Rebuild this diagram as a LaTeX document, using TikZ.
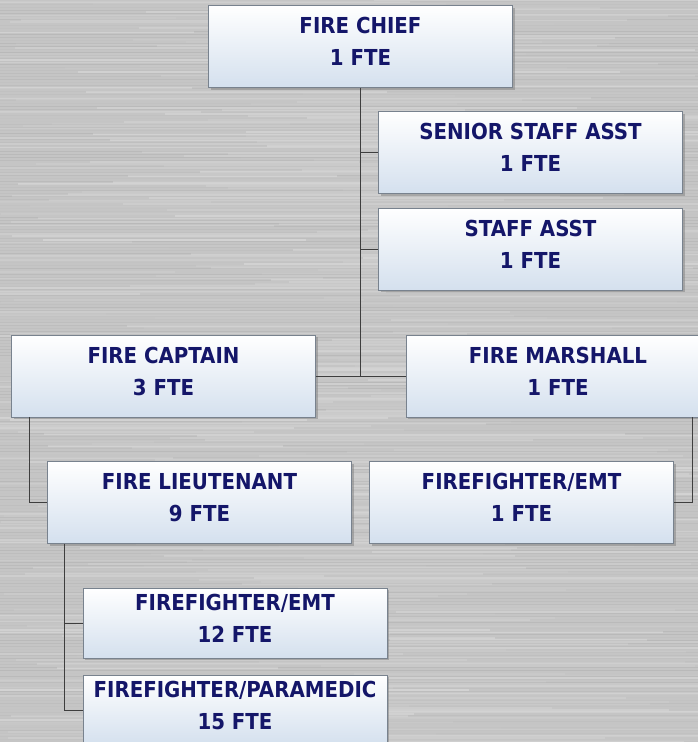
\documentclass[tikz,border=0pt]{standalone}
\usepackage{fontspec}
\newfontfamily\boxfont{DejaVu Sans Condensed}
\usetikzlibrary{shadows}
\definecolor{navytext}{RGB}{20,22,105}
\definecolor{boxblue}{RGB}{212,224,238}
\definecolor{boxedge}{RGB}{120,130,142}
\definecolor{steel}{RGB}{197,197,197}
\definecolor{linkgray}{RGB}{62,62,62}
\tikzset{
  post/.style={rectangle, draw=boxedge, line width=0.8pt, top color=white, bottom color=boxblue,
    minimum width=304pt, minimum height=82pt, inner sep=0pt, align=center, text=navytext,
    font=\boxfont\bfseries\fontsize{22}{32}\selectfont, text depth=10pt,
    drop shadow={shadow xshift=2pt, shadow yshift=-2pt, opacity=0.5}},
  link/.style={draw=linkgray, line width=1pt}
}

\begin{document}
\begin{tikzpicture}[x=1pt, y=-1pt]
    \useasboundingbox (0,0) rectangle (698,742);
    \clip (0,0) rectangle (698,742);
    % brushed steel backdrop
    \fill[steel] (0,0) rectangle (698,742);
    \pgfmathsetseed{11}
    \foreach \y in {0,2,...,742} {
        \pgfmathsetmacro{\op}{rnd*0.25}
        \pgfmathsetmacro{\xa}{rnd*500-100}
        \pgfmathsetmacro{\len}{200+rnd*500}
        \draw[white, opacity=\op, line width=1.5pt] (\xa,\y) -- ++(\len,0);
    }
    \foreach \y in {1,4,...,742} {
        \pgfmathsetmacro{\op}{rnd*0.06}
        \draw[black, opacity=\op, line width=1pt] (0,\y) -- (698,\y);
    }

    \node[post] (chief) at (360.5,46.5) {FIRE CHIEF\\1 FTE};
    \node[post] (senior) at (530.5,152.5) {SENIOR STAFF ASST\\1 FTE};
    \node[post] (staff) at (530.5,249) {STAFF ASST\\1 FTE};
    \node[post] (captain) at (163.5,376) {FIRE CAPTAIN\\3 FTE};
    \node[post] (marshall) at (558,376) {FIRE MARSHALL\\1 FTE};
    \node[post] (lieut) at (199.5,502.5) {FIRE LIEUTENANT\\9 FTE};
    \node[post] (ffemt) at (521.5,502.5) {FIREFIGHTER/EMT\\1 FTE};
    \node[post, minimum height=70pt] (ffemt12) at (235,623) {FIREFIGHTER/EMT\\12 FTE};
    \node[post, minimum height=70pt] (medic) at (235,710) {FIREFIGHTER/PARAMEDIC\\15 FTE};

    \draw[link] (chief.south) -- (chief.south |- captain.east);
    \draw[link] (chief.south |- senior.west) -- (senior.west);
    \draw[link] (chief.south |- staff.west) -- (staff.west);
    \draw[link] (captain.east) -- (marshall.west);
    \draw[link] ([xshift=18pt]captain.south west) |- (lieut.west);
    \draw[link] ([xshift=-18pt]marshall.south east) |- (ffemt.east);
    \draw[link] ([xshift=17pt]lieut.south west) |- (ffemt12.west);
    \draw[link] ([xshift=17pt]lieut.south west) |- (medic.west);
\end{tikzpicture}
\end{document}
